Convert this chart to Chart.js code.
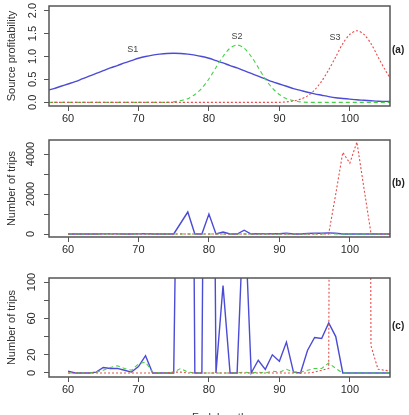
<!DOCTYPE html>
<html>
<head>
<meta charset="utf-8">
<script src="https://cdn.jsdelivr.net/npm/chart.js@4.4.1/dist/chart.umd.min.js"></script>
<style>
  html, body { margin: 0; padding: 0; background: #fff; overflow: hidden; }
  body { width: 409px; height: 415px; position: relative; font-family: "Liberation Sans", Arial, sans-serif; }
  canvas { position: absolute; left: 0; }
  .tag { position: absolute; left: 392px; font-size: 10px; font-weight: bold; color: #222; }
  .xtitle { position: absolute; left: 49px; width: 341px; text-align: center; font-size: 11px; color: #333; top: 411px; }
</style>
</head>
<body>
<canvas id="chartA" width="409" height="130" style="top:0px"></canvas>
<canvas id="chartB" width="409" height="135" style="top:130px"></canvas>
<canvas id="chartC" width="409" height="150" style="top:265px"></canvas>
<div class="tag" style="top:44px">(a)</div>
<div class="tag" style="top:177px">(b)</div>
<div class="tag" style="top:320px">(c)</div>
<div class="xtitle">Fork length</div>
<script>
// x ticks shared by all panels
const xTicks = [60, 70, 80, 90, 100];

// Panel (a): source profitability
const profX = [57, 58, 59, 60, 61, 62, 63, 64, 65, 66, 67, 68, 69, 70, 71, 72, 73, 74, 75, 76, 77, 78, 79, 80, 81,
    82, 83, 84, 85, 86, 87, 88, 89, 90, 91, 92, 93, 94, 95, 96, 97, 98, 99, 100, 101, 102, 103, 104, 105, 106];
const s1Prof = [0.26, 0.30, 0.35, 0.40, 0.45, 0.51, 0.57, 0.63, 0.69, 0.75, 0.80, 0.86, 0.91, 0.96, 1.00, 1.03, 1.05, 1.065, 1.07, 1.065,
    1.05, 1.03, 1.00, 0.96, 0.91, 0.86, 0.80, 0.75, 0.69, 0.63, 0.57, 0.51, 0.45, 0.40, 0.35, 0.30, 0.26, 0.22, 0.185, 0.155,
    0.125, 0.10, 0.085, 0.07, 0.055, 0.045, 0.035, 0.025, 0.02, 0.015];
const s2Prof = [0, 0, 0, 0, 0, 0, 0, 0, 0, 0, 0, 0, 0, 0, 0, 0, 0, 0, 0.01, 0.04,
    0.08, 0.17, 0.31, 0.51, 0.76, 1.0, 1.18, 1.25, 1.18, 1.0, 0.76, 0.51, 0.31, 0.17, 0.08, 0.04, 0.01, 0, 0, 0,
    0, 0, 0, 0, 0, 0, 0, 0, 0, 0];
const s3Prof = [0, 0, 0, 0, 0, 0, 0, 0, 0, 0, 0, 0, 0, 0, 0, 0, 0, 0, 0, 0,
    0, 0, 0, 0, 0, 0, 0, 0, 0, 0, 0, 0, 0, 0, 0.01, 0.03, 0.07, 0.14, 0.27, 0.46,
    0.71, 0.99, 1.28, 1.48, 1.56, 1.48, 1.28, 0.99, 0.71, 0.46];
const profTicks = [0, 0.5, 1, 1.5, 2];
const sourceLabels = [
    { text: 'S1', x: 69.2, y: 1.15 },
    { text: 'S2', x: 84.0, y: 1.43 },
    { text: 'S3', x: 97.9, y: 1.41 }
];

// Panels (b) and (c): number of trips
const tripX = [60, 61, 62, 63, 64, 65, 66, 67, 68, 69, 70, 71, 72, 73, 74, 75, 76, 77, 78, 79, 80, 81, 82, 83,
    84, 85, 86, 87, 88, 89, 90, 91, 92, 93, 94, 95, 96, 97, 98, 99, 100, 101, 102, 103, 104, 105, 106];
const s1Trips = [2, 0, 0, 0, 1, 6, 5, 5, 3, 1, 7, 19, 0, 0, 0, 0, 550, 1100, 0, 0, 1000, 0, 96, 0,
    0, 190, 0, 14, 4, 20, 13, 34, 1, 0, 25, 39, 38, 55, 40, 0, 0, 0, 0, 0, 0, 0, 0];
const s2Trips = [0, 0, 0, 0, 1, 3, 6, 8, 5, 3, 10, 12, 1, 0, 0, 1, 5, 1, 0, 0, 0, 0, 0, 0,
    0, 1, 0, 1, 0, 2, 1, 4, 1, 1, 3, 5, 5, 11, 5, 0, 0, 0, 0, 0, 0, 0, 0];
const s3Trips = [0, 0, 0, 0, 0, 0, 0, 0, 0, 0, 0, 0, 0, 0, 0, 1, 1, 0, 0, 0, 0, 0, 0, 0,
    0, 0, 0, 0, 0, 0, 0, 0, 0, 0, 0, 1, 3, 5, 2000, 4080, 3540, 4600, 2300, 30, 4, 3, 2];
const tripTicksB = [0, 1000, 2000, 3000, 4000];
const tripLabelsB = [0, 2000, 4000];
const tripTicksC = [0, 20, 40, 60, 80, 100];
const tripLabelsC = [0, 20, 60, 100];

const lineColors = {
    s1: '#4b4bd6',
    s2: '#45d045',
    s3: '#e84a4a'
};
const axisColor = '#555';
const textColor = '#2a2a2a';

function toPoints(xs, ys) {
    return xs.map((x, i) => ({ x: x, y: ys[i] }));
}

function makeDatasets(xs, a, b, c, smooth) {
    const t = smooth ? 0.3 : 0;
    return [
        { data: toPoints(xs, c), borderColor: lineColors.s3, borderWidth: 1.1, borderDash: [2, 2], tension: t },
        { data: toPoints(xs, b), borderColor: lineColors.s2, borderWidth: 1.1, borderDash: [4, 3], tension: t },
        { data: toPoints(xs, a), borderColor: lineColors.s1, borderWidth: 1.4, tension: t }
    ];
}

// box around plot area, like R's box()
const boxPlugin = {
    id: 'box',
    afterDatasetsDraw(chart) {
        const a = chart.chartArea;
        const ctx = chart.ctx;
        ctx.save();
        ctx.strokeStyle = axisColor;
        ctx.lineWidth = 1.5;
        ctx.strokeRect(a.left, a.top, a.right - a.left, a.bottom - a.top);
        ctx.restore();
    }
};

// S1/S2/S3 labels in panel (a)
const sourceLabelPlugin = {
    id: 'sourceLabels',
    afterDatasetsDraw(chart) {
        const ctx = chart.ctx;
        ctx.save();
        ctx.font = '9px "Liberation Sans", Arial, sans-serif';
        ctx.fillStyle = '#444';
        ctx.textAlign = 'center';
        ctx.textBaseline = 'middle';
        sourceLabels.forEach(l => {
            ctx.fillText(l.text, chart.scales.x.getPixelForValue(l.x), chart.scales.y.getPixelForValue(l.y));
        });
        ctx.restore();
    }
};

function makeOptions(cfg) {
    return {
        responsive: false,
        animation: false,
        layout: { padding: { top: cfg.padTop, right: 19, left: 0, bottom: 0 } },
        plugins: { legend: { display: false }, tooltip: { enabled: false } },
        elements: { point: { radius: 0 } },
        scales: {
            x: {
                type: 'linear',
                min: 57.3,
                max: 105.7,
                afterBuildTicks: s => { s.ticks = xTicks.map(v => ({ value: v })); },
                afterFit: s => { s.height = cfg.xHeight; s.paddingLeft = 0; s.paddingRight = 0; },
                border: { display: false },
                grid: { drawOnChartArea: false, drawTicks: true, tickLength: 5, color: axisColor, lineWidth: 1 },
                ticks: {
                    color: textColor, padding: 1, maxRotation: 0, autoSkip: false,
                    font: { size: 11, family: '"Liberation Sans", Arial, sans-serif' }
                }
            },
            y: {
                min: cfg.yMin,
                max: cfg.yMax,
                afterBuildTicks: s => { s.ticks = cfg.yTicks.map(v => ({ value: v })); },
                afterFit: s => { s.width = 49; s.paddingTop = 0; s.paddingBottom = 0; },
                border: { display: false },
                grid: { drawOnChartArea: false, drawTicks: true, tickLength: 5, color: axisColor, lineWidth: 1 },
                ticks: {
                    color: textColor, padding: cfg.yPad, minRotation: 90, maxRotation: 90,
                    crossAlign: 'center', autoSkip: false,
                    font: { size: 11, family: '"Liberation Sans", Arial, sans-serif' },
                    callback: cfg.yLabel
                },
                title: {
                    display: true,
                    text: cfg.yTitle,
                    color: '#333',
                    padding: { top: 5, bottom: 0 },
                    font: { size: 11, family: '"Liberation Sans", Arial, sans-serif' }
                }
            }
        }
    };
}

document.addEventListener('DOMContentLoaded', function () {
    new Chart(document.getElementById('chartA'), {
        type: 'line',
        data: { datasets: makeDatasets(profX, s1Prof, s2Prof, s3Prof, true) },
        options: makeOptions({
            padTop: 6, xHeight: 24, yMin: -0.08, yMax: 2.1, yTicks: profTicks, yPad: 3,
            yTitle: 'Source profitability',
            yLabel: v => v.toFixed(1)
        }),
        plugins: [boxPlugin, sourceLabelPlugin]
    });

    new Chart(document.getElementById('chartB'), {
        type: 'line',
        data: { datasets: makeDatasets(tripX, s1Trips, s2Trips, s3Trips, false) },
        options: makeOptions({
            padTop: 10, xHeight: 28, yMin: -150, yMax: 4700, yTicks: tripTicksB, yPad: 1,
            yTitle: 'Number of trips',
            yLabel: v => tripLabelsB.includes(v) ? String(v) : ''
        }),
        plugins: [boxPlugin]
    });

    new Chart(document.getElementById('chartC'), {
        type: 'line',
        data: { datasets: makeDatasets(tripX, s1Trips, s2Trips, s3Trips, false) },
        options: makeOptions({
            padTop: 13, xHeight: 38, yMin: -4.4, yMax: 104.4, yTicks: tripTicksC, yPad: 3,
            yTitle: 'Number of trips',
            yLabel: v => tripLabelsC.includes(v) ? String(v) : ''
        }),
        plugins: [boxPlugin]
    });
});
</script>
</body>
</html>
